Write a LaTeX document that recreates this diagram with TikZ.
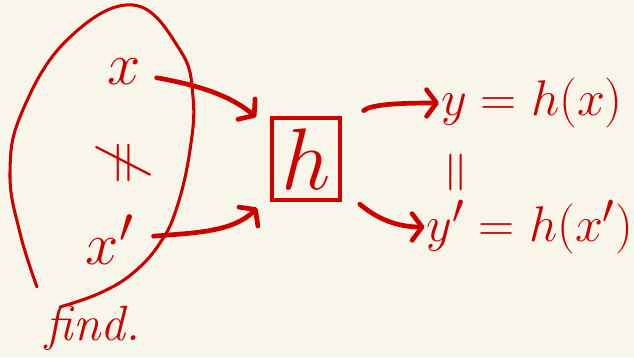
\documentclass[tikz,border=0pt]{standalone}
\usepackage{amsmath}
\usetikzlibrary{arrows.meta}
\definecolor{inkred}{RGB}{205,0,0}
\definecolor{paper}{RGB}{248,246,234}
\begin{document}
\begin{tikzpicture}[x=0.03cm,y=0.03cm,
  ink/.style={text=inkred,inner sep=1pt,font=\Huge},
  big/.style={scale=2.05},
  mid/.style={scale=1.72},
  arr/.style={draw=inkred,line width=4pt,line cap=round,
    -{Straight Barb[length=3mm,width=8mm,line width=4pt,round]}}]
\useasboundingbox (0,0) rectangle (634,357);
\fill[paper] (0,0) rectangle (634,357);
\draw[inkred,line width=2.6pt,line cap=round] plot[smooth,tension=0.7] coordinates
  {(37,70) (20,124) (10,184) (22,245) (67,317) (133,352) (180,307) (193,260)
   (190,207) (177,150) (160,114) (133,84) (100,64) (60,50)};
\node[ink,big] (x) at (124,285) {$x$};
\node[ink,big,rotate=90] (neq) at (124,194) {$\neq$};
\node[ink,big] (xp) at (110,117) {$x'$};
\draw[inkred,line width=4pt] (272,157) rectangle (340,239);
\node[ink,scale=3,minimum width=2.04cm/3,minimum height=2.46cm/3] (h) at (306,198) {$h$};
\node[ink,mid] (y) at (532,254) {$y = h(x)$};
\node[ink,scale=2,rotate=90] (same) at (460,184) {$=$};
\node[ink,mid] (yp) at (530,130) {$y' = h(x')$};
\node[ink,scale=1.7] (find) at (93,29) {\itshape find.};
\draw[arr,shorten <=0.4cm,shorten >=0.6cm] (x) to[out=-10,in=140] (h);
\draw[arr,shorten <=0.5cm,shorten >=0.6cm] (xp) to[out=5,in=225] (h);
\draw[arr,shorten <=0.9cm] (h) to[out=40,in=180] (y);
\draw[arr,shorten <=0.75cm] (h) to[out=-40,in=180] (yp);
\end{tikzpicture}
\end{document}
